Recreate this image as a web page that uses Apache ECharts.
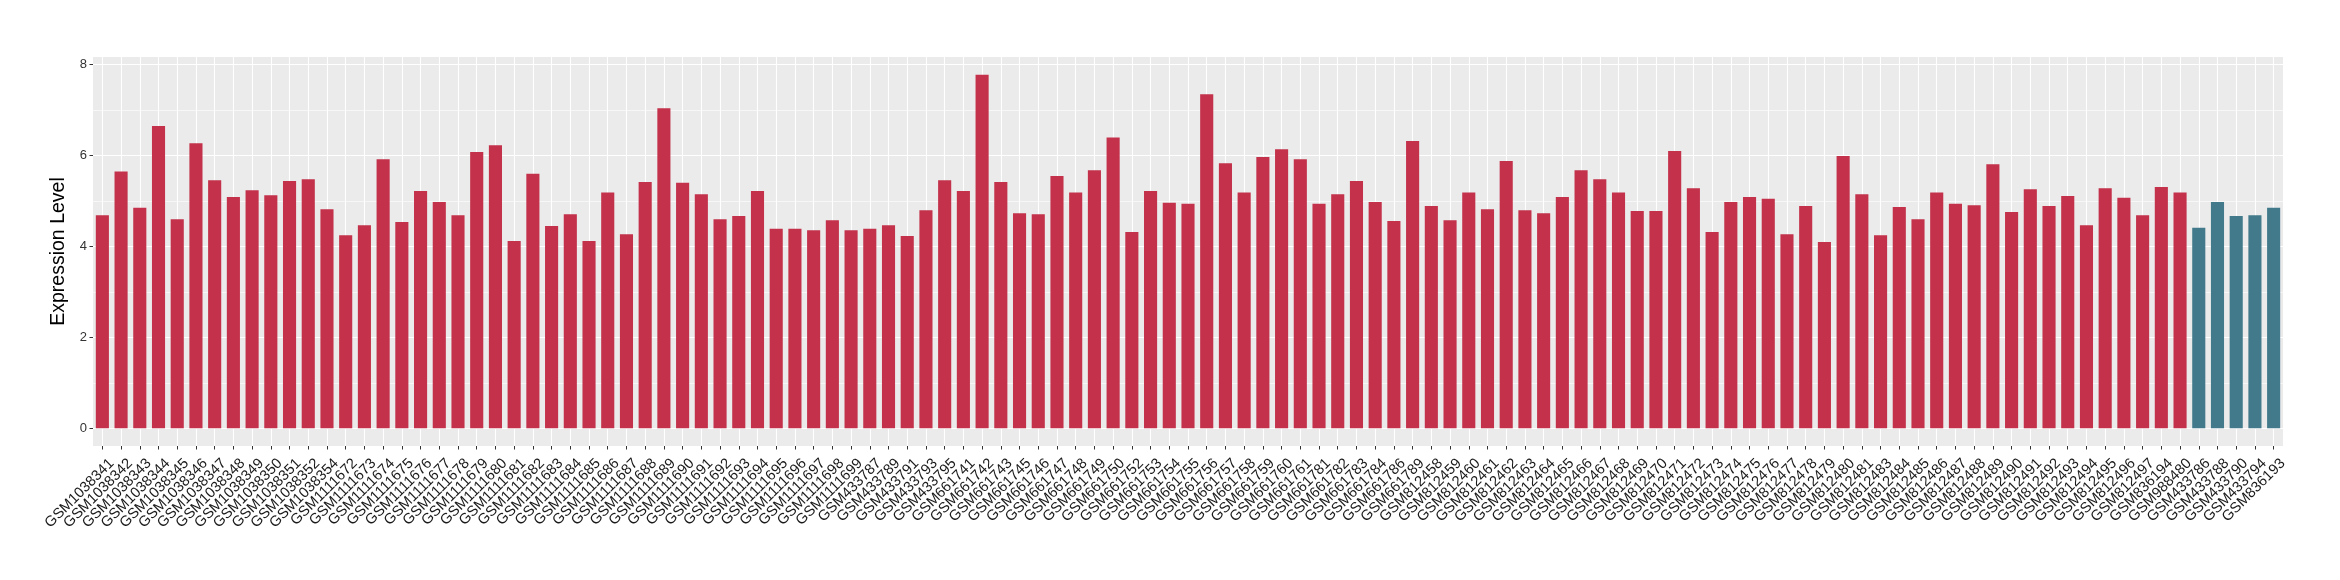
<!DOCTYPE html>
<html><head><meta charset="utf-8">
<script src="https://cdn.jsdelivr.net/npm/echarts@6/dist/echarts.min.js"></script>
<style>html,body{margin:0;padding:0;background:#fff}#c{width:2340px;height:580px}</style>
</head><body><div id="c"></div>
<script>
const categories = [
"GSM1038341","GSM1038342","GSM1038343","GSM1038344","GSM1038345","GSM1038346","GSM1038347","GSM1038348","GSM1038349","GSM1038350","GSM1038351","GSM1038352","GSM1038354",
"GSM1111672","GSM1111673","GSM1111674","GSM1111675","GSM1111676","GSM1111677","GSM1111678","GSM1111679","GSM1111680","GSM1111681","GSM1111682","GSM1111683","GSM1111684","GSM1111685","GSM1111686","GSM1111687","GSM1111688","GSM1111689","GSM1111690","GSM1111691","GSM1111692","GSM1111693","GSM1111694","GSM1111695","GSM1111696","GSM1111697","GSM1111698","GSM1111699",
"GSM433787","GSM433789","GSM433791","GSM433793","GSM433795",
"GSM661741","GSM661742","GSM661743","GSM661745","GSM661746","GSM661747","GSM661748","GSM661749","GSM661750","GSM661752","GSM661753","GSM661754","GSM661755","GSM661756","GSM661757","GSM661758","GSM661759","GSM661760","GSM661761","GSM661781","GSM661782","GSM661783","GSM661784","GSM661786","GSM661789",
"GSM812458","GSM812459","GSM812460","GSM812461","GSM812462","GSM812463","GSM812464","GSM812465","GSM812466","GSM812467","GSM812468","GSM812469","GSM812470","GSM812471","GSM812472","GSM812473","GSM812474","GSM812475","GSM812476","GSM812477","GSM812478","GSM812479","GSM812480","GSM812481","GSM812483","GSM812484","GSM812485","GSM812486","GSM812487","GSM812488","GSM812489","GSM812490","GSM812491","GSM812492","GSM812493","GSM812494","GSM812495","GSM812496","GSM812497",
"GSM836194","GSM988480",
"GSM433786","GSM433788","GSM433790","GSM433794","GSM836193"
];
const values = [
4.69,5.65,4.85,6.65,4.60,6.27,5.46,5.09,5.24,5.13,5.44,5.48,4.82,
4.25,4.47,5.92,4.54,5.22,4.98,4.69,6.08,6.23,4.12,5.60,4.45,4.71,4.12,5.19,4.27,5.42,7.04,5.40,5.15,4.60,4.67,5.22,4.39,4.39,4.36,4.58,4.36,
4.39,4.47,4.23,4.80,5.46,
5.22,7.78,5.42,4.73,4.71,5.55,5.19,5.68,6.40,4.32,5.22,4.96,4.94,7.35,5.83,5.19,5.97,6.14,5.92,4.94,5.15,5.44,4.98,4.56,6.32,
4.89,4.58,5.19,4.82,5.88,4.80,4.73,5.09,5.68,5.48,5.19,4.78,4.78,6.10,5.28,4.32,4.98,5.09,5.05,4.27,4.89,4.10,5.99,5.15,4.25,4.87,4.60,5.19,4.94,4.91,5.81,4.76,5.26,4.89,5.11,4.47,5.28,5.07,4.69,
5.31,5.19,
4.41,4.98,4.67,4.69,4.85
];
const groups = categories.map((c, i) => i < 112 ? "A" : "B");
const yMajorTicks = [0, 2, 4, 6, 8];
const yMinorTicks = [1, 3, 5, 7];

const groupColor = { A: "#c3314a", B: "#437a8b" };
const font = "'Liberation Sans', Arial, sans-serif";

const chart = echarts.init(document.getElementById('c'), null, { renderer: 'canvas' });
const gridLines = [].concat(
  yMinorTicks.map(v => ({ yAxis: v, lineStyle: { color: '#ffffff', width: 0.6, type: 'solid' } })),
  yMajorTicks.map(v => ({ yAxis: v, lineStyle: { color: '#ffffff', width: 1.1, type: 'solid' } })),
  categories.map(c => ({ xAxis: c, lineStyle: { color: '#ffffff', width: 1.1, type: 'solid' } }))
);
chart.setOption({
  animation: false,
  backgroundColor: '#ffffff',
  grid: { left: 93, right: 57, top: 57, bottom: 134, show: true, backgroundColor: '#ebebeb', borderWidth: 0 },
  xAxis: {
    type: 'category',
    data: categories,
    axisLine: { show: false, onZero: false },
    axisTick: { show: true, alignWithLabel: true, length: 3.5, lineStyle: { color: '#333333', width: 1 } },
    axisLabel: { interval: 0, rotate: 45, margin: 6, fontSize: 14.7, color: '#1a1a1a', fontFamily: font,
                 verticalAlign: 'top', padding: [5.5, 0, 0, 0] },
    splitLine: { show: false }
  },
  yAxis: {
    type: 'value',
    min: -0.389, max: 8.169,
    name: 'Expression Level',
    nameLocation: 'middle',
    nameGap: 18,
    nameTextStyle: { fontSize: 19.5, color: '#000000', fontFamily: font },
    axisLine: { show: false },
    axisTick: { show: true, length: 3.5, customValues: yMajorTicks, lineStyle: { color: '#333333' } },
    axisLabel: { customValues: yMajorTicks, fontSize: 13, color: '#333333', margin: 6, fontFamily: font },
    splitLine: { show: false }
  },
  series: [{
    type: 'bar',
    barWidth: '70%',
    data: values.map((v, i) => ({ value: v, itemStyle: { color: groupColor[groups[i]] } })),
    z: 2,
    markLine: {
      silent: true, z: 1, symbol: 'none', animation: false,
      label: { show: false },
      data: gridLines
    }
  }]
});
</script></body></html>
